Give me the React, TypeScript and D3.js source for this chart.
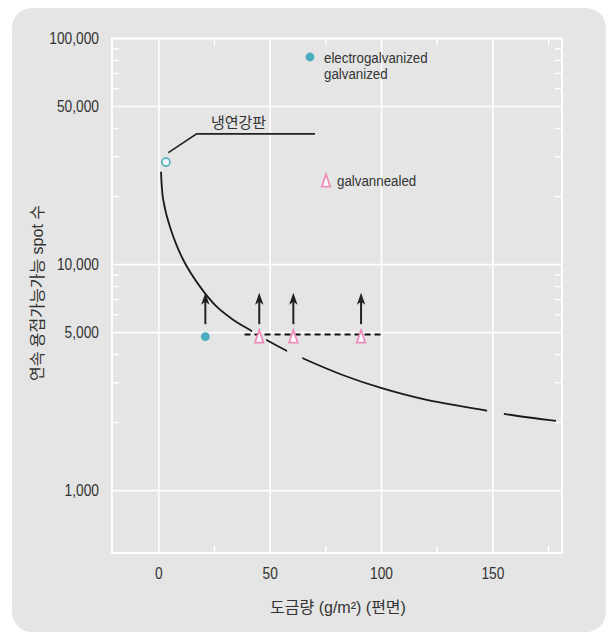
import React from "react";
import * as d3 from "d3";

// ---------- data ----------
const xTicks = [0, 50, 100, 150];
const xMinorTicks = [25, 75, 125, 175];
const yTicks = [1000, 5000, 10000, 50000, 100000];
const yTickLabels = ["1,000", "5,000", "10,000", "50,000", "100,000"];
const yMinorTicks = [2000, 3000, 4000, 6000, 7000, 8000, 9000, 20000, 30000, 40000, 60000, 70000, 80000, 90000];
const xExtent = [-21, 181];
const yExtent = [530, 100000];

// cold-rolled sheet limit curve
const curveX = [1.0, 2.0, 5.0, 11.0, 18.5, 26.0, 33.5, 41.7, 48.4, 57.4, 64.6, 82.8, 100.1, 120.3, 147.2, 155.1, 178.3];
const curveY = [25760, 19310, 14710, 10480, 7990, 6510, 5690, 5085, 4640, 4160, 3850, 3240, 2840, 2520, 2260, 2185, 2035];
const curveGaps: [number, number][] = [[41.9, 48.2], [57.6, 64.4], [147.4, 154.9]];

// cold-rolled (냉연강판) point
const coldX = [3.2];
const coldY = [28400];
// electrogalvanized / galvanized
const egX = [20.9];
const egY = [4800];
// galvannealed
const gaX = [45.1, 60.4, 90.8];
const gaY = [4800, 4800, 4800];
// arrows (lower bound indicators)
const arrowX = [20.9, 45.1, 60.4, 90.8];
const arrowBase = 5450;
const arrowTip = 7500;
// dashed level
const dashX = [38.5, 101.2];
const dashY = 4900;
// callout
const calloutX = [4.3, 17.0, 70.1];
const calloutY = [31260, 37840, 37840];
const calloutLabelX = 35.8;
const calloutLabel = "냉연강판";

const legendLabels = ["electrogalvanized", "galvanized", "galvannealed"];
const xTitle = "도금량 (g/m²) (편면)";
const yTitle = "연속 용접가능가능 spot 수";

// ---------- style ----------
const TEAL = "#4aacbe";
const PINK = "#f08cbc";
const TXT = "#333333";
const BG = "#e5e5e5";
const FONT = "'Liberation Sans', 'Noto Sans CJK KR', sans-serif";
const SX = 0.86;

function CText({ x, y, anchor = "start", size = 16, sx = SX, children }: any) {
  return (
    <text
      transform={`translate(${x},${y}) scale(${sx},1)`}
      textAnchor={anchor}
      fontSize={size}
      fill={TXT}
    >
      {children}
    </text>
  );
}

export default function App() {
  const W = 610, H = 635;
  const x = d3.scaleLinear().domain(xExtent).range([112, 562]);
  const y = d3.scaleLog().domain(yExtent).range([553, 38.5]);
  const L = x(xExtent[0]), R = x(xExtent[1]), T = y(yExtent[1]), B = y(yExtent[0]);

  const pts: [number, number][] = curveX.map((v, i) => [x(v), y(curveY[i])]);
  const curvePath = d3.line().curve(d3.curveCatmullRom.alpha(0.5))(pts) || "";
  const calloutPath = d3.line()(calloutX.map((v, i) => [x(v), y(calloutY[i])] as [number, number])) || "";

  const tri = (cx: number, cy: number) =>
    `M${cx},${cy - 6.5}L${cx + 4.3},${cy + 6}L${cx - 4.3},${cy + 6}Z`;

  return (
    <svg width={W} height={H} style={{ position: "absolute", left: 0, top: 0 }} fontFamily={FONT}>
      <defs>
        <mask id="gapMask" maskUnits="userSpaceOnUse" x={0} y={0} width={W} height={H}>
          <rect x={0} y={0} width={W} height={H} fill="white" />
          {curveGaps.map((g, i) => (
            <rect key={i} x={x(g[0])} y={0} width={x(g[1]) - x(g[0])} height={H} fill="black" />
          ))}
        </mask>
      </defs>
      <rect x={0} y={0} width={W} height={H} fill="white" />
      <rect x={12} y={8} width={594} height={624} rx={20} ry={20} fill={BG} />

      {/* gridlines */}
      {xTicks.map((t) => (
        <line key={"gx" + t} x1={x(t)} x2={x(t)} y1={T} y2={B} stroke="white" strokeWidth={1.6} />
      ))}
      {yTicks.map((t) => (
        <line key={"gy" + t} x1={L} x2={R} y1={y(t)} y2={y(t)} stroke="white" strokeWidth={1.6} />
      ))}
      {/* minor ticks */}
      {xMinorTicks.map((t) => (
        <g key={"mx" + t}>
          <line x1={x(t)} x2={x(t)} y1={T} y2={T + 7} stroke="white" strokeWidth={1.4} />
          <line x1={x(t)} x2={x(t)} y1={B} y2={B - 7} stroke="white" strokeWidth={1.4} />
        </g>
      ))}
      {yMinorTicks.map((t) => (
        <g key={"my" + t}>
          <line x1={L} x2={L + 7} y1={y(t)} y2={y(t)} stroke="white" strokeWidth={1.4} />
          <line x1={R} x2={R - 7} y1={y(t)} y2={y(t)} stroke="white" strokeWidth={1.4} />
        </g>
      ))}
      {/* frame */}
      <rect x={L} y={T} width={R - L} height={B - T} fill="none" stroke="white" strokeWidth={2} />

      {/* tick labels */}
      {yTicks.map((t, i) => (
        <CText key={"yl" + t} x={99} y={y(t) + 5.5} anchor="end" size={16}>
          {yTickLabels[i]}
        </CText>
      ))}
      {xTicks.map((t) => (
        <CText key={"xl" + t} x={x(t)} y={579} anchor="middle" size={16}>
          {t}
        </CText>
      ))}

      {/* axis titles */}
      <text x={338} y={613} textAnchor="middle" fontSize={16} fill={TXT}>
        {xTitle}
      </text>
      <text transform={`translate(43,293) rotate(-90)`} textAnchor="middle" fontSize={16} fill={TXT}>
        {yTitle}
      </text>

      {/* curve */}
      <path d={curvePath} fill="none" stroke="#1a1a1a" strokeWidth={1.8} mask="url(#gapMask)" />

      {/* dashed level */}
      <line x1={x(dashX[0])} x2={x(dashX[1])} y1={y(dashY)} y2={y(dashY)} stroke="#111" strokeWidth={2} strokeDasharray="6,4" />

      {/* arrows */}
      {arrowX.map((v, i) => {
        const cx = x(v), yt = y(arrowTip), yb = y(arrowBase);
        return (
          <g key={"ar" + i}>
            <line x1={cx} x2={cx} y1={yb} y2={yt + 8} stroke="#222" strokeWidth={2} />
            <path d={`M${cx},${yt}L${cx + 4.2},${yt + 12}L${cx},${yt + 9}L${cx - 4.2},${yt + 12}Z`} fill="#222" />
          </g>
        );
      })}

      {/* markers */}
      {egX.map((v, i) => (
        <circle key={"eg" + i} cx={x(v)} cy={y(egY[i])} r={4.4} fill={TEAL} />
      ))}
      {gaX.map((v, i) => (
        <path key={"ga" + i} d={tri(x(v), y(gaY[i]))} fill="white" stroke={PINK} strokeWidth={1.8} />
      ))}
      {coldX.map((v, i) => (
        <circle key={"cr" + i} cx={x(v)} cy={y(coldY[i])} r={4} fill="white" stroke={TEAL} strokeWidth={1.6} />
      ))}

      {/* callout */}
      <path d={calloutPath} fill="none" stroke="#222" strokeWidth={1.6} />
      <text x={x(calloutLabelX)} y={y(calloutY[1]) - 5.5} textAnchor="middle" fontSize={15} fill={TXT}>
        {calloutLabel}
      </text>

      {/* legend */}
      <circle cx={310} cy={57} r={4.4} fill={TEAL} />
      <CText x={324} y={63} size={15.5}>{legendLabels[0]}</CText>
      <CText x={324} y={78.5} size={15.5}>{legendLabels[1]}</CText>
      <path d={tri(326, 180.7)} fill="white" stroke={PINK} strokeWidth={1.8} />
      <CText x={337} y={185.5} size={15.5}>{legendLabels[2]}</CText>
    </svg>
  );
}
